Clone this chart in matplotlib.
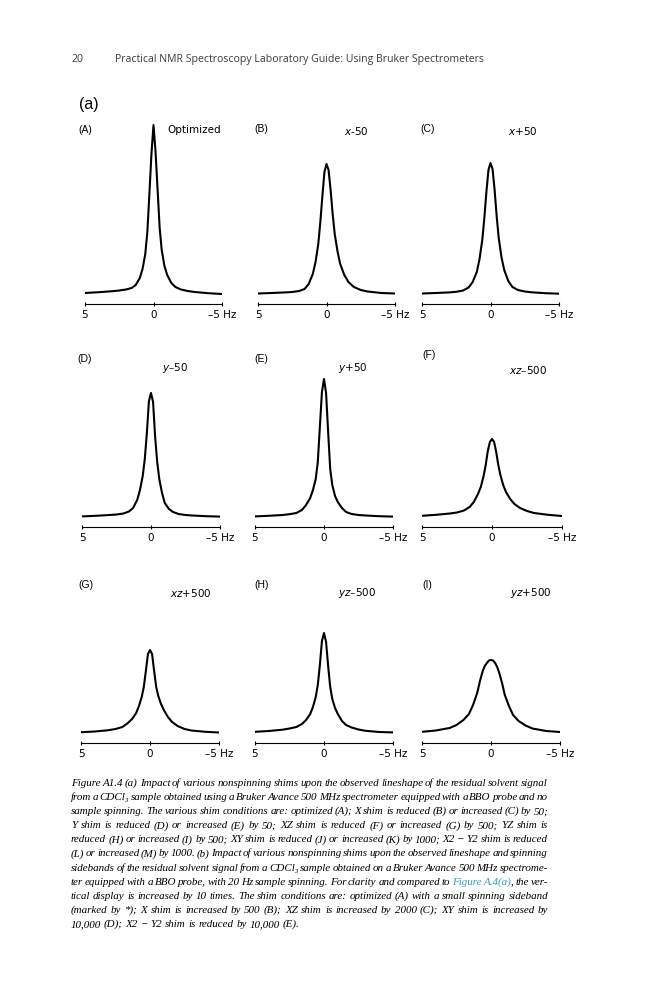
import re
import matplotlib
matplotlib.use("Agg")
import matplotlib.pyplot as plt

W, H = 666, 1000
SANS = ["Liberation Sans", "DejaVu Sans"]
SERIF = ["Liberation Serif", "DejaVu Serif"]
TEAL = "#3a9db5"

hz = [5, 4, 3, 2.5, 2, 1.6, 1.3, 1.0, 0.8, 0.6, 0.45, 0.3, 0.15, 0,
      -0.15, -0.3, -0.45, -0.6, -0.8, -1.0, -1.3, -1.6, -2, -2.5, -3, -4, -5]

# heights above baseline, same arbitrary scale for every panel
optimized = [1, 1.8, 2.8, 3.5, 4.5, 6, 9, 16, 25, 40, 62, 100, 140, 169,
             142, 104, 66, 44, 28, 19, 11, 7, 4.5, 3, 2, 0.8, 0]
x_minus_50 = [0.5, 1, 1.6, 2, 3, 5, 10, 20, 32, 50, 72, 98, 122, 130,
              124, 104, 80, 60, 43, 30, 19, 12, 7, 4, 2.5, 1, 0.5]
x_plus_50 = [0.5, 1, 1.6, 2.2, 3.5, 6.5, 12, 22, 35, 54, 76, 102, 124, 131,
             125, 104, 78, 56, 37, 24, 13, 7, 4, 2.5, 1.7, 0.8, 0.3]
y_minus_50 = [0.6, 1.2, 2, 2.5, 3.5, 5.5, 9, 17, 27, 41, 58, 84, 116, 124,
              115, 80, 55, 38, 24, 14, 8, 5, 3, 2, 1.5, 0.8, 0.4]
y_plus_50 = [0.6, 1.2, 2, 2.8, 4, 7, 12, 19, 27, 38, 55, 90, 125, 138,
             124, 85, 48, 32, 21, 15, 9, 5, 3, 2, 1.5, 0.8, 0.4]
xz_minus_500 = [1.2, 2.2, 3.5, 4.5, 6.5, 10, 15, 23, 30, 41, 52, 66, 75, 78,
                75, 65, 52, 42, 32, 25, 18, 13, 9, 6, 4, 2.2, 1]
xz_plus_500 = [0.8, 1.5, 2.8, 4, 6, 10, 14, 20, 27, 36, 46, 62, 79, 83,
               79, 62, 46, 37, 29, 23, 16, 11, 7, 4, 2.5, 1.2, 0.5]
yz_minus_500 = [1.2, 2, 3.3, 4.5, 6, 9, 13, 19, 26, 36, 48, 68, 92, 100,
                91, 67, 46, 34, 25, 19, 12, 8, 5.5, 3.5, 2.2, 1, 0.6]
yz_plus_500 = [1.2, 2.5, 5, 8, 13, 19, 28, 40, 52, 62, 67, 70, 72.5, 73,
               72.5, 70, 66, 60, 50, 38, 27, 18, 12, 7.5, 4.5, 2, 1]

letters = ["(A)", "(B)", "(C)", "(D)", "(E)", "(F)", "(G)", "(H)", "(I)"]
conditions = ["Optimized", "$x$-50", "$x$+50", "$y$\u201350", "$y$+50",
              "$xz$\u2013500", "$xz$+500", "$yz$\u2013500", "$yz$+500"]
series = [optimized, x_minus_50, x_plus_50, y_minus_50, y_plus_50,
          xz_minus_500, xz_plus_500, yz_minus_500, yz_plus_500]
tick_pos = [5, 0, -5]
tick_text = ["5", "0", "\u20135 Hz"]

header_num = "20"
header_title = "Practical NMR Spectroscopy Laboratory Guide: Using Bruker Spectrometers"

caption = [
    "Figure A1.4 (a) Impact of various nonspinning shims upon the observed lineshape of the residual solvent signal",
    "from a CDCl\u2083 sample obtained using a Bruker Avance 500 MHz spectrometer equipped with a BBO probe and no",
    "sample spinning. The various shim conditions are: optimized (A); X shim is reduced (B) or increased (C) by 50;",
    "Y shim is reduced (D) or increased (E) by 50; XZ shim is reduced (F) or increased (G) by 500; YZ shim is",
    "reduced (H) or increased (I) by 500; XY shim is reduced (J) or increased (K) by 1000; X2 \u2212 Y2 shim is reduced",
    "(L) or increased (M) by 1000. (b) Impact of various nonspinning shims upon the observed lineshape and spinning",
    "sidebands of the residual solvent signal from a CDCl\u2083 sample obtained on a Bruker Avance 500 MHz spectrome-",
    "ter equipped with a BBO probe, with 20 Hz sample spinning. For clarity and compared to {Figure} {A.4(a)}, the ver-",
    "tical display is increased by 10 times. The shim conditions are: optimized (A) with a small spinning sideband",
    "(marked by *); X shim is increased by 500 (B); XZ shim is increased by 2000 (C); XY shim is increased by",
    "10,000 (D); X2 \u2212 Y2 shim is reduced by 10,000 (E).",
]

# layout in page pixels: (left, right, axis line y)
boxes = [(85, 222, 304), (258, 395, 304), (422, 559, 304),
         (82, 220, 527), (255, 393, 527), (422, 562, 527),
         (81, 219, 743), (255, 393, 743), (422, 560, 743)]
letter_xy = [(78, 130), (254, 129), (420, 129),
             (77, 359), (254, 359), (422, 355),
             (78, 585), (254, 585), (422, 585)]
cond_xy = [(167, 130), (344, 131), (508, 131),
           (162, 368), (338, 368), (509, 370),
           (170, 593), (338, 593), (510, 593)]

fig = plt.figure(figsize=(W / 100, H / 100), dpi=100)
fig.patch.set_facecolor("white")
renderer = fig.canvas.get_renderer()


def fx(x):
    return x / W


def fy(y):
    return 1 - y / H


def width_of(s, **kw):
    t = fig.text(0, 0, s, **kw)
    w = t.get_window_extent(renderer).width
    t.remove()
    return w


# page header
hdr_kw = dict(family=["Open Sans", "DejaVu Sans"], color="#3c3c3c")
hdr_size = 10 * 366 / width_of(header_title, fontsize=10, **hdr_kw)
fig.text(fx(72), fy(62), header_num, fontsize=hdr_size, va="baseline", **hdr_kw)
fig.text(fx(115), fy(62), header_title, fontsize=hdr_size, va="baseline", **hdr_kw)
fig.text(fx(79), fy(104), "(a)", fontsize=11.5, family=SANS, va="center")

# spectra panels
for i in range(9):
    l, r, yb = boxes[i]
    ax = fig.add_axes([fx(l), fy(yb), (r - l) / W, 184 / H])
    ax.patch.set_alpha(0)
    ax.plot(hz, series[i], color="black", lw=1.5, solid_joinstyle="round")
    ax.set_xlim(5, -5)
    ax.set_ylim(-10, 174)
    for s in ["left", "right", "top"]:
        ax.spines[s].set_visible(False)
    ax.spines["bottom"].set_linewidth(0.8)
    ax.set_yticks([])
    ax.set_xticks(tick_pos)
    ax.set_xticklabels(tick_text)
    ax.tick_params(axis="x", direction="inout", length=3.5, width=0.8,
                   pad=2.5, labelsize=7.5)
    fig.text(fx(letter_xy[i][0]), fy(letter_xy[i][1]), letters[i],
             fontsize=7.5, family=SANS, va="center")
    fig.text(fx(cond_xy[i][0]), fy(cond_xy[i][1]), conditions[i],
             fontsize=7.5, va="center", math_fontfamily="dejavusans")

# caption, justified between x0 and x1
x0, x1 = 71, 548
cap_kw = dict(family=SERIF, style="italic")
cap_size = 7.9
space_w = (width_of("a a", fontsize=cap_size, **cap_kw)
           - width_of("aa", fontsize=cap_size, **cap_kw))

for n, line in enumerate(caption):
    yb = 786 + n * 14.1
    words = []
    for word in line.split(" "):
        parts = []
        for seg in re.split(r"(\{[^}]*\})", word):
            if not seg:
                continue
            color = "black"
            if seg.startswith("{"):
                seg, color = seg[1:-1], TEAL
            t = fig.text(0, fy(yb), seg, fontsize=cap_size, color=color,
                         va="baseline", **cap_kw)
            parts.append((t, t.get_window_extent(renderer).width))
        words.append(parts)
    total = sum(w for parts in words for _, w in parts)
    last = n == len(caption) - 1
    gap = space_w if last else max((x1 - x0 - total) / (len(words) - 1), 1.0)
    x = x0
    for parts in words:
        for t, w in parts:
            t.set_x(fx(x))
            x += w
        x += gap

fig.savefig("out.png", dpi=100)
